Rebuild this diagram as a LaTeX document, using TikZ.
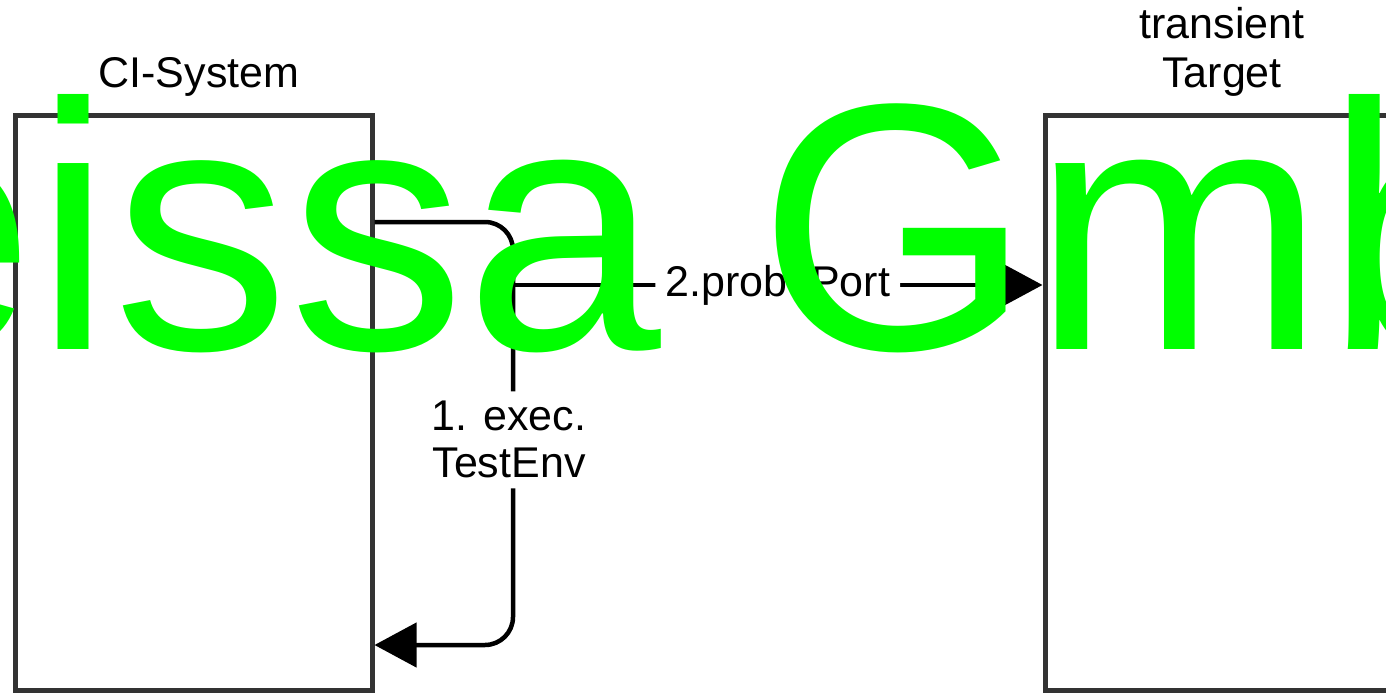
\documentclass[tikz,border=0pt]{standalone}
\usepackage{fontspec}
\setmainfont{Liberation Sans}
\usetikzlibrary{arrows.meta}
\definecolor{boxgray}{HTML}{333333}
\definecolor{wmgreen}{RGB}{0,255,0}

\begin{document}
\begin{tikzpicture}[
      x = 1pt, y = -1pt,
      block/.style = {draw = boxgray, line width = 5pt, rectangle, inner sep = 0pt, minimum height = 575pt},
      title/.style = {font = \fontsize{43}{48}\selectfont, align = center, inner sep = 0pt, anchor = base},
      conn/.style = {draw, line width = 4.5pt, rounded corners = 28pt, -{Triangle[length = 42pt, width = 44pt]}},
      tag/.style = {fill = white, font = \fontsize{43}{47}\selectfont, align = center, inner xsep = 10pt, inner ysep = 10pt},
      wmark/.style = {text = wmgreen, font = \fontsize{352}{352}\selectfont, inner sep = 0pt, anchor = base west}
      ]
      \useasboundingbox (0,0) rectangle (1386,693);
      \clip (0,0) rectangle (1386,693);
      \node[block, minimum width = 357pt] (cisys) at (193.5,402.5) {};
      \node[block, minimum width = 360pt] (target) at (1225,402.5) {};
      \node[title] (cititle) at (199,88) {CI-System};
      \node[title] (targettitle) at (1222,87) {transient\\Target};
      \coordinate (bendtop) at (513,222);
      \coordinate (bendlow) at (513,645);
      \coordinate (probestart) at (513,285);
      \draw[conn] (cisys.east |- bendtop) -- (bendtop) -- node[tag, pos = 0.515, xshift = -4pt] (execlabel) {1. exec.\\TestEnv} (bendlow) -- (cisys.east |- bendlow);
      \draw[conn] (probestart) -- node[tag] (probelabel) {2.probePort} (target.west |- probestart);
      \node[wmark] (watermark) at (-161,349) {eissa GmbH};
\end{tikzpicture}
\end{document}
